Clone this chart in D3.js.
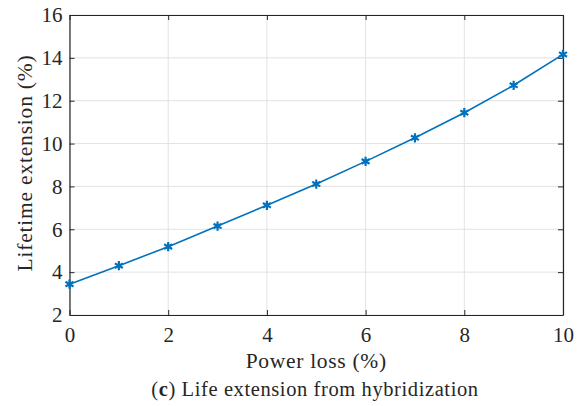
<!DOCTYPE html>
<html>
<head>
<meta charset="utf-8">
<script src="https://cdn.jsdelivr.net/npm/d3@7"></script>
<style>
  body { margin: 0; background: #fff; }
  svg { display: block; }
  text { font-family: "Liberation Serif", "DejaVu Serif", serif; fill: #262626; }
</style>
</head>
<body>
<svg id="chart" width="580" height="406"></svg>
<script>
// --- Data ---
const powerLoss = [0, 1, 2, 3, 4, 5, 6, 7, 8, 9, 10];
const lifetimeExt = [3.44, 4.30, 5.19, 6.15, 7.12, 8.11, 9.17, 10.27, 11.44, 12.72, 14.16];
const xTicks = [0, 2, 4, 6, 8, 10];
const yTicks = [2, 4, 6, 8, 10, 12, 14, 16];

const margin = { top: 15, right: 17, bottom: 91, left: 69.5 };
const svgWidth = 580, svgHeight = 406;
const width = svgWidth - margin.left - margin.right;
const height = svgHeight - margin.top - margin.bottom;

const svg = d3.select("#chart");
const g = svg.append("g").attr("transform", `translate(${margin.left},${margin.top})`);

// --- Scales ---
const x = d3.scaleLinear().domain([0, 10]).range([0, width]);
const y = d3.scaleLinear().domain([2, 16]).range([height, 0]);

// --- Grid ---
g.append("g").selectAll("line").data(xTicks).join("line")
    .attr("x1", d => x(d)).attr("x2", d => x(d))
    .attr("y1", 0).attr("y2", height)
    .attr("stroke", "#e3e3e3").attr("stroke-width", 1);
g.append("g").selectAll("line").data(yTicks).join("line")
    .attr("y1", d => y(d)).attr("y2", d => y(d))
    .attr("x1", 0).attr("x2", width)
    .attr("stroke", "#e3e3e3").attr("stroke-width", 1);

// --- Axes (ticks pointing inward, box on) ---
function styleAxis(sel) {
    sel.select(".domain").attr("stroke", "#262626").attr("stroke-width", 1.2);
    sel.selectAll(".tick line").attr("stroke", "#262626").attr("stroke-width", 1);
    sel.selectAll(".tick text").attr("font-size", "21px")
        .attr("font-family", "Liberation Serif, DejaVu Serif, serif").attr("fill", "#262626");
}

g.append("g").attr("transform", `translate(0,${height})`)
    .call(d3.axisBottom(x).tickValues(xTicks).tickSize(-5).tickPadding(12).tickSizeOuter(0))
    .call(styleAxis);
g.append("g")
    .call(d3.axisLeft(y).tickValues(yTicks).tickSize(-5).tickPadding(7).tickSizeOuter(0))
    .call(styleAxis);
g.append("g")
    .call(d3.axisTop(x).tickValues(xTicks).tickSize(-5).tickFormat("").tickSizeOuter(0))
    .call(styleAxis);
g.append("g").attr("transform", `translate(${width},0)`)
    .call(d3.axisRight(y).tickValues(yTicks).tickSize(-5).tickFormat("").tickSizeOuter(0))
    .call(styleAxis);

// --- Line ---
const data = powerLoss.map((p, i) => ({ p, v: lifetimeExt[i] }));
const line = d3.line().x(d => x(d.p)).y(d => y(d.v));
g.append("path").datum(data)
    .attr("fill", "none")
    .attr("stroke", "#0072BD")
    .attr("stroke-width", 1.6)
    .attr("d", line);

// --- Asterisk markers ---
const star = d3.symbol().type(d3.symbolAsterisk).size(60);
g.append("g").selectAll("path").data(data).join("path")
    .attr("transform", d => `translate(${x(d.p)},${y(d.v)})`)
    .attr("d", star)
    .attr("fill", "none")
    .attr("stroke", "#0072BD")
    .attr("stroke-width", 2.2);

// --- Labels ---
svg.append("text")
    .attr("x", margin.left + width / 2)
    .attr("y", 368)
    .attr("text-anchor", "middle")
    .attr("font-size", "21.5px")
    .attr("letter-spacing", "0.7px")
    .text("Power loss (%)");

svg.append("text")
    .attr("transform", `translate(32,${margin.top + height / 2 - 2}) rotate(-90)`)
    .attr("text-anchor", "middle")
    .attr("font-size", "21.5px")
    .attr("letter-spacing", "0.8px")
    .text("Lifetime extension (%)");

const cap = svg.append("text")
    .attr("x", 315)
    .attr("y", 396)
    .attr("text-anchor", "middle")
    .attr("font-size", "20.5px")
    .attr("letter-spacing", "0.6px")
    .attr("fill", "#000");
cap.append("tspan").text("(");
cap.append("tspan").attr("font-weight", "bold").text("c");
cap.append("tspan").text(") Life extension from hybridization");
</script>
</body>
</html>
